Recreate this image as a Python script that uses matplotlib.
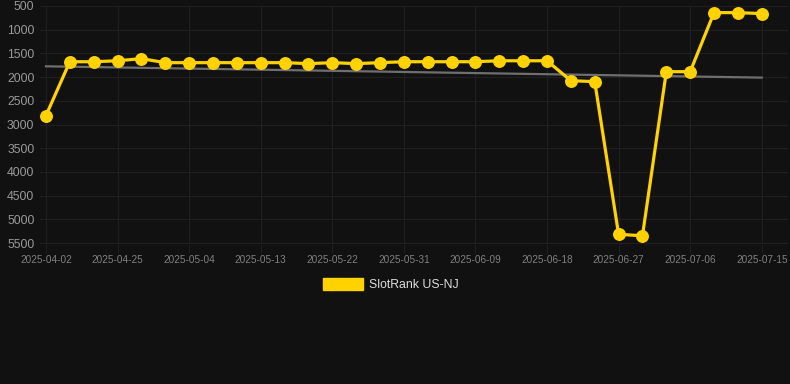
import matplotlib.pyplot as plt
import numpy as np

# Rank history (lower is better, axis inverted)
dates = ['2025-04-02', '2025-04-19', '2025-04-22', '2025-04-25', '2025-04-28',
         '2025-05-01', '2025-05-04', '2025-05-07', '2025-05-10', '2025-05-13',
         '2025-05-16', '2025-05-19', '2025-05-22', '2025-05-25', '2025-05-28',
         '2025-05-31', '2025-06-03', '2025-06-06', '2025-06-09', '2025-06-12',
         '2025-06-15', '2025-06-18', '2025-06-21', '2025-06-24', '2025-06-27',
         '2025-06-30', '2025-07-03', '2025-07-06', '2025-07-09', '2025-07-12',
         '2025-07-15']
ranks = [2810, 1675, 1675, 1655, 1610, 1695, 1695, 1695, 1695, 1695,
         1695, 1715, 1695, 1715, 1695, 1675, 1675, 1675, 1675, 1655,
         1655, 1655, 2075, 2095, 5315, 5345, 1885, 1885, 640, 640,
         660]
y_ticks = [500, 1000, 1500, 2000, 2500, 3000, 3500, 4000, 4500, 5000, 5500]
series_label = 'SlotRank US-NJ'

BG = '#111111'
GOLD = '#FFD200'

plt.rcParams['font.family'] = ['Liberation Sans', 'DejaVu Sans']

fig = plt.figure(figsize=(7.9, 3.84), dpi=100, facecolor=BG)
ax = fig.add_axes([40 / 790, 1 - 245 / 384, 748 / 790, 239 / 384])
ax.set_facecolor(BG)

x = np.arange(len(dates))

# linear trend through the data
coef = np.polyfit(x, ranks, 1)
ax.plot(x, np.polyval(coef, x), color='#6f6f6f', lw=1.6, zorder=2)

ax.plot(x, ranks, color=GOLD, lw=2.3, marker='o', markersize=8.3,
        markerfacecolor=GOLD, markeredgecolor=GOLD, zorder=3, clip_on=False)

ax.set_ylim(5540, 500)
ax.set_xlim(-0.25, 31.1)
ax.set_yticks(y_ticks)
ax.set_yticklabels([str(v) for v in y_ticks])
ax.set_xticks(x[::3])
ax.set_xticklabels(dates[::3])

ax.grid(True, color='#1f1f1f', lw=0.9)
for s in ax.spines.values():
    s.set_visible(False)
ax.tick_params(axis='y', length=0, pad=4, labelsize=8.8, labelcolor='#9a9a9a')
ax.tick_params(axis='x', length=6, color='#1f1f1f', pad=1, labelsize=7.2,
               labelcolor='#808080')

# legend as a swatch + label under the chart
fig.patches.append(plt.Rectangle((323 / 790, 1 - 290 / 384), 40 / 790, 12 / 384,
                                 transform=fig.transFigure, color=GOLD))
fig.text(369 / 790, 1 - 285 / 384, series_label, color='#dddddd', fontsize=8.8,
         va='center', ha='left')

plt.savefig('out.png', dpi=100, facecolor=BG)
